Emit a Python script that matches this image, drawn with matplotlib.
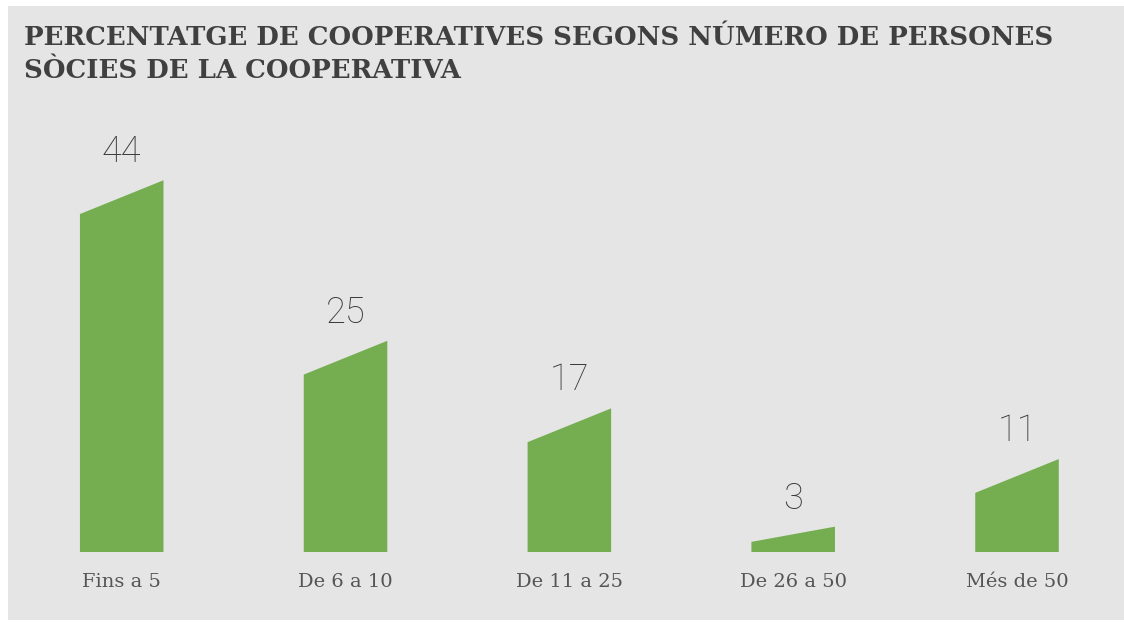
import matplotlib.pyplot as plt
from matplotlib.patches import Polygon, Rectangle

categories = ["Fins a 5", "De 6 a 10", "De 11 a 25", "De 26 a 50", "Més de 50"]
values = [44, 25, 17, 3, 11]
title_lines = [
    "PERCENTATGE DE COOPERATIVES SEGONS NÚMERO DE PERSONES",
    "SÒCIES DE LA COOPERATIVA",
]

W, H = 1124, 622
BAR_COLOR = "#75ae50"
PANEL_COLOR = "#e5e5e5"
TITLE_COLOR = "#404040"
TEXT_COLOR = "#555555"

fig = plt.figure(figsize=(W / 100, H / 100), dpi=100)
fig.patch.set_facecolor("white")

# grey panel behind everything
fig.patches.append(Rectangle((8 / W, 2 / H), 1, 614 / H,
                             transform=fig.transFigure,
                             facecolor=PANEL_COLOR, edgecolor="none", zorder=-5))

ax = fig.add_axes([8 / W, 70 / H, 1116 / W, 452 / H])
ax.set_xlim(-0.508, 4.478)
ax.set_ylim(0, 53.5)
ax.axis("off")

half_w = 0.1866
slant = 4.0

for i, (cat, v) in enumerate(zip(categories, values)):
    left_h = max(v - slant, v * 0.4)
    pts = [(i - half_w, 0), (i - half_w, left_h), (i + half_w, v), (i + half_w, 0)]
    ax.add_patch(Polygon(pts, closed=True, facecolor=BAR_COLOR, edgecolor="none"))

    ax.text(i, v + 3.3, str(v), ha="center", va="center",
            fontsize=26, family="Roboto", fontweight="light",
            color="#3a3a3a", clip_on=False)
    ax.text(i, -3.6, cat, ha="center", va="center",
            fontsize=14, family="DejaVu Serif", color=TEXT_COLOR,
            clip_on=False)

# title, two lines
for k, line in enumerate(title_lines):
    fig.text(24 / W, 1 - (45 + 33 * k) / H, line, ha="left", va="baseline",
             fontsize=18.7, family="DejaVu Serif", fontweight="bold",
             color=TITLE_COLOR)

fig.savefig("out.png", dpi=100, facecolor=fig.get_facecolor())
